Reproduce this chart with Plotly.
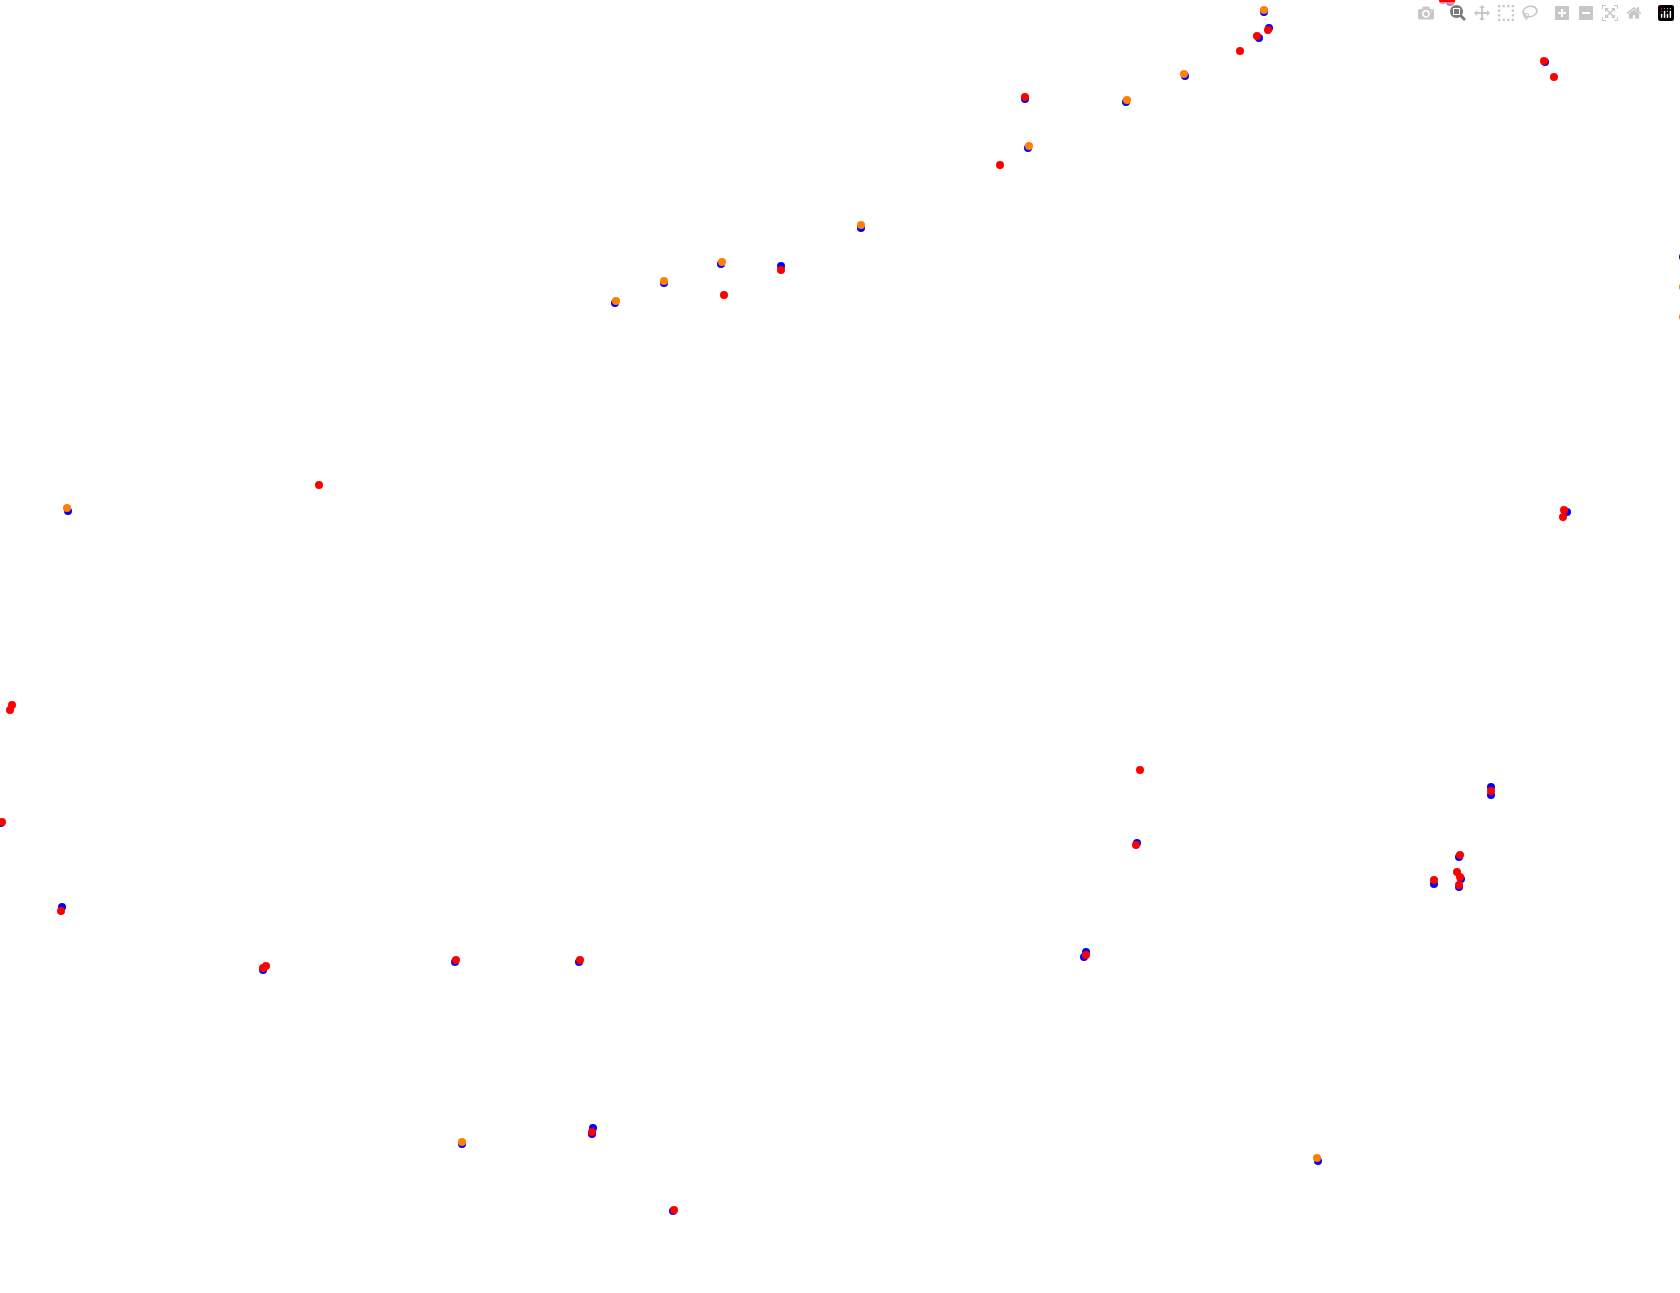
import plotly.graph_objects as go

# Series values, in chart units
blue_x = [1264, 1269, 1259, 1450, 1545, 1185, 1025, 1126, 1028, 861, 721, 781, 664, 615,
          68, 1, 62, 263, 455, 579, 462, 593, 592, 673, 1137, 1086, 1084, 1491, 1491,
          1459, 1434, 1461, 1459, 1567, 1318, 1683]
blue_y = [12, 28, 38, 2, 62, 76, 99, 102, 148, 228, 264, 266, 283, 303,
          511, 823, 907, 970, 962, 962, 1144, 1128, 1134, 1211, 843, 952, 957, 787, 795,
          857, 884, 879, 887, 512, 1161, 257]

orange_x = [1264, 1184, 1127, 1029, 861, 722, 664, 616, 67, 462, 1317, 1683, 1683]
orange_y = [10, 74, 100, 146, 225, 262, 281, 301, 508, 1142, 1158, 287, 317]

red_x = [1268, 1257, 1240, 1443, 1451, 1544, 1554, 1025, 1000, 781, 724, 319, 12, 10,
         2, 61, 263, 266, 456, 580, 592, 674, 1140, 1136, 1086, 1491, 1460, 1434, 1457,
         1460, 1459, 1564, 1563]
red_y = [30, 36, 51, 0, 1, 61, 77, 97, 165, 270, 295, 485, 705, 710,
         822, 911, 968, 966, 960, 960, 1132, 1210, 770, 845, 955, 791, 855, 880, 872,
         877, 885, 510, 517]

series = [
    ("blue", blue_x, blue_y, "#0000ff"),
    ("orange", orange_x, orange_y, "#ff8000"),
    ("red", red_x, red_y, "#ff0000"),
]

fig = go.Figure()
for name, xs, ys, col in series:
    fig.add_trace(go.Scatter(
        x=xs, y=ys, mode="markers", name=name,
        marker=dict(color=col, size=8, line=dict(width=0)),
    ))

fig.update_layout(
    width=1680, height=1293,
    margin=dict(l=0, r=0, t=0, b=0),
    paper_bgcolor="white", plot_bgcolor="white",
    showlegend=False,
    xaxis=dict(visible=False, range=[0, 1680]),
    yaxis=dict(visible=False, range=[1293, 0]),
)

fig.write_html(
    "out.html",
    post_script="document.body.style.margin='0';document.body.style.overflow='hidden';",
)
